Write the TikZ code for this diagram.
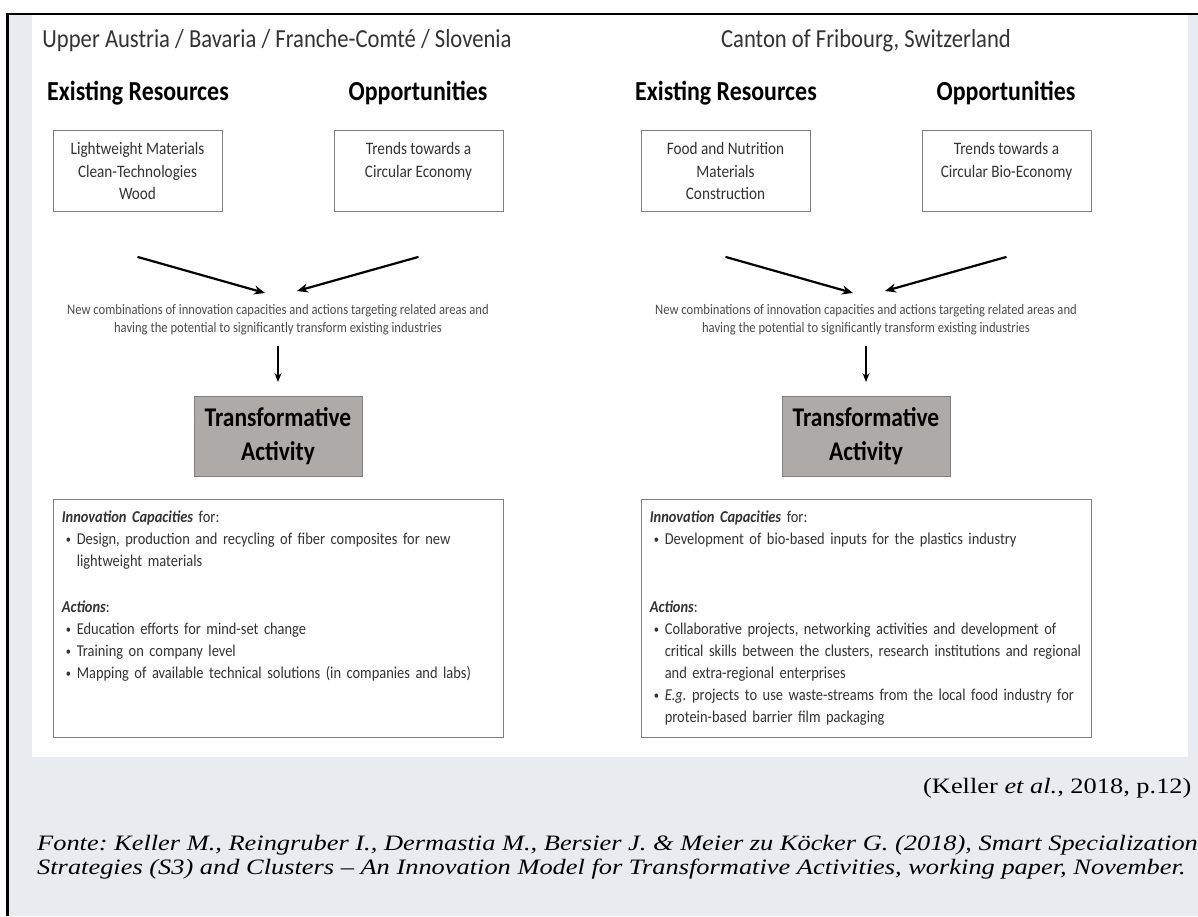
\documentclass[tikz,border=0pt]{standalone}
\usepackage{fontspec}
\setmainfont{Carlito}[FakeStretch=0.87]
\newfontfamily\citefont{Liberation Serif}[FakeStretch=1.2]
\usetikzlibrary{positioning, arrows.meta, calc}
\definecolor{PageGray}{HTML}{E8ECF1}
\definecolor{FrameGray}{HTML}{7F7F7F}
\definecolor{ActivityGray}{HTML}{AEAAA8}
\definecolor{InkGray}{HTML}{333333}
\newcommand{\bitem}[1]{\par\hangindent=15pt\hangafter=1\noindent
  \makebox[15pt][l]{\hspace{4pt}\raisebox{1pt}{\fontsize{12}{12}\selectfont\textbullet}}#1\par}
\frenchspacing
\hyphenpenalty=10000

\begin{document}
\begin{tikzpicture}[
    x=1pt, y=-1pt,
    region/.style={font=\fontsize{26}{31}\selectfont, text=InkGray, anchor=base},
    colhead/.style={font=\bfseries\fontsize{27.5}{32}\selectfont, anchor=base},
    resbox/.style={draw=FrameGray, line width=0.8pt, fill=white, minimum width=169pt,
                   minimum height=81pt, align=center, text=InkGray,
                   font=\fontsize{17.5}{22.5}\selectfont},
    combtext/.style={align=center, text=black!70, font=\fontsize{14.5}{18}\selectfont},
    activity/.style={draw=FrameGray, line width=1pt, fill=ActivityGray, minimum width=168pt,
                     minimum height=80pt, align=center, font=\bfseries\fontsize{27}{34}\selectfont},
    detail/.style={draw=FrameGray, line width=0.8pt, fill=white, minimum width=450pt,
                   minimum height=238pt},
    detailtext/.style={anchor=north west, text width=470pt, align=left, inner sep=0pt,
                       text=InkGray, font=\fontsize{16.6}{22}\selectfont},
    merge/.style={-{Stealth[length=11pt, width=9pt]}, line width=2.2pt},
    flow/.style={-{Stealth[length=9pt, width=7pt]}, line width=1.3pt},
    citation/.style={font=\citefont\fontsize{22}{24}\selectfont},
]
  % page, frame and white panel
  \useasboundingbox (0,0) rectangle (1198,916);
  \fill[PageGray] (7.5,14) rectangle (1198,916);
  \fill[white] (32,14) rectangle (1188,757);
  \draw[line width=2.5pt] (1198,14) -- (7.5,14) -- (7.5,916);

  % regions
  \node[region] (regL) at (277,47) {Upper Austria / Bavaria / Franche-Comté / Slovenia};
  \node[region] (regR) at (866,47) {Canton of Fribourg, Switzerland};

  % both panels
  \foreach \p/\cx/\restext/\opptext in {
      L/278/{Lightweight Materials\\Clean-Technologies\\Wood}/{Trends towards a\\Circular Economy\\\mbox{}},
      R/866/{Food and Nutrition\\Materials\\Construction}/{Trends towards a\\Circular Bio-Economy\\\mbox{}}}{
    \node[colhead] (exist\p) at (\cx-140,100) {Existing Resources};
    \node[colhead] (oppo\p) at (\cx+140,100) {Opportunities};
    \node[resbox] (res\p) at (\cx-140.5,171) {\restext};
    \node[resbox] (opp\p) at (\cx+140.5,171) {\opptext};
    \node[combtext] (comb\p) at (\cx,320) {New combinations of innovation capacities and actions targeting related areas and\\
      having the potential to significantly transform existing industries};
    \node[activity] (act\p) at (\cx,436.5) {Transformative\\Activity};
    \node[detail] (det\p) at (\cx,618) {};

    \coordinate (m1s\p) at ([yshift=-45pt]res\p.south);
    \coordinate (m1e\p) at (\cx-13,293);
    \coordinate (m2s\p) at ([yshift=-45pt]opp\p.south);
    \coordinate (m2e\p) at (\cx+19,291);
    \draw[merge] (m1s\p) -- (m1e\p);
    \draw[merge] (m2s\p) -- (m2e\p);
    \draw[flow, shorten <=7pt, shorten >=14pt] (comb\p.south) -- (act\p.north);
  }

  % detail texts
  \node[detailtext] (capL) at ([shift={(9pt,-12pt)}]detL.north west) {%
    \textbf{\textit{Innovation Capacities}} for:
    \bitem{Design, production and recycling of fiber composites for new\newline lightweight materials}
    \vspace{24pt}\noindent\textbf{\textit{Actions}}:
    \bitem{Education efforts for mind-set change}
    \bitem{Training on company level}
    \bitem{Mapping of available technical solutions (in companies and labs)}};
  \node[detailtext] (capR) at ([shift={(9pt,-12pt)}]detR.north west) {%
    \textbf{\textit{Innovation Capacities}} for:
    \bitem{Development of bio-based inputs for the plastics industry}
    \vspace{46pt}\noindent\textbf{\textit{Actions}}:
    \bitem{Collaborative projects, networking activities and development of\newline
      critical skills between the clusters, research institutions and regional\newline
      and extra-regional enterprises}
    \bitem{\textit{E.g.} projects to use waste-streams from the local food industry for\newline
      protein-based barrier film packaging}};

  % source
  \node[citation, anchor=east] (cite) at (1195,788) {(Keller \textit{et al.}, 2018, p.12)};
  \node[citation, anchor=north west, align=left, inner xsep=0pt] (src) at (37,832)
    {\textit{Fonte: Keller M., Reingruber I., Dermastia M., Bersier J. \& Meier zu Köcker G. (2018), Smart Specialization}\\
     \textit{Strategies (S3) and Clusters – An Innovation Model for Transformative Activities, working paper, November.}};
\end{tikzpicture}
\end{document}
